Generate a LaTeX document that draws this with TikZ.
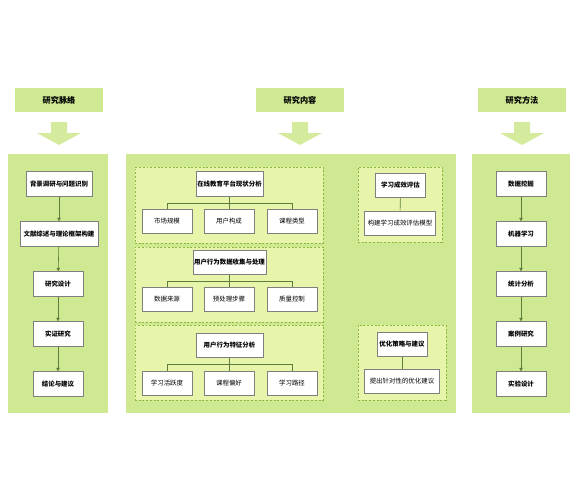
\documentclass[tikz,border=0pt]{standalone}
\usepackage{fontspec}
\setmainfont{Noto Sans CJK SC}
\usetikzlibrary{positioning,arrows.meta}

\definecolor{panelgreen}{HTML}{CFE992}
\definecolor{groupfill}{HTML}{E6F5AA}
\definecolor{groupline}{HTML}{8DB83E}
\definecolor{linkgreen}{HTML}{5E7D3C}
\definecolor{boxgray}{HTML}{7F7F7F}

\begin{document}
\begin{tikzpicture}[x=0.03cm,y=-0.03cm,
    panel/.style={fill=panelgreen,draw=none,inner sep=0pt},
    header/.style={fill=panelgreen,minimum width=2.62cm,minimum height=0.72cm,
        font=\fontsize{7}{8}\selectfont\bfseries},
    group/.style={fill=groupfill,draw=groupline,dash pattern=on 1.6pt off 1.6pt,line width=0.7pt,inner sep=0pt},
    stepbox/.style={draw=boxgray,fill=white,line width=0.6pt,minimum height=0.74cm,
        minimum width=1.5cm,inner sep=1pt,font=\fontsize{5.5}{6.5}\selectfont\bfseries},
    leafbox/.style={draw=boxgray,fill=white,line width=0.6pt,minimum height=0.72cm,
        minimum width=1.5cm,inner sep=1pt,font=\fontsize{5.5}{6.5}\selectfont},
    flow/.style={draw=linkgreen,line width=0.5pt,-{Triangle[length=3pt,width=3pt]}},
    tree/.style={draw=linkgreen,line width=0.5pt}
]

    % Rahmen
    \useasboundingbox (0,0) rectangle (579,500);

    % Kopfzeilen
    \node[header] (hctx) at (59,100) {研究脉络};
    \node[header] (hcon) at (300,100) {研究内容};
    \node[header] (hmet) at (522,100) {研究方法};

    % Grosse Pfeile
    \foreach \cx in {59,300,522}
        \fill[panelgreen!90!white] (\cx-8,122) -- (\cx+8,122) -- (\cx+8,133) -- (\cx+22,133)
            -- (\cx,145) -- (\cx-22,133) -- (\cx-8,133) -- cycle;

    % Hintergrundflaechen
    \node[panel,minimum width=3cm,minimum height=7.77cm] (pctx) at (58,283.5) {};
    \node[panel,minimum width=9.9cm,minimum height=7.77cm] (pcon) at (291,283.5) {};
    \node[panel,minimum width=2.94cm,minimum height=7.77cm] (pmet) at (521,283.5) {};

    % Linke Spalte
    \node[stepbox,minimum width=1.98cm] (c1) at (59,184) {背景调研与问题识别};
    \node[stepbox,minimum width=2.34cm] (c2) at (59,234) {文献综述与理论框架构建};
    \node[stepbox] (c3) at (58,284) {研究设计};
    \node[stepbox] (c4) at (58,334) {实证研究};
    \node[stepbox] (c5) at (58,384) {结论与建议};
    \foreach \a/\b in {c1/c2,c2/c3,c3/c4,c4/c5}
        \draw[flow] (\a) -- (\b);

    % Rechte Spalte
    \node[stepbox] (m1) at (521,184) {数据挖掘};
    \node[stepbox] (m2) at (521,234) {机器学习};
    \node[stepbox] (m3) at (521,284) {统计分析};
    \node[stepbox] (m4) at (521,334) {案例研究};
    \node[stepbox] (m5) at (521,384) {实验设计};
    \foreach \a/\b in {m1/m2,m2/m3,m3/m4,m4/m5}
        \draw[flow] (\a) -- (\b);

    % Gruppen in der Mitte
    \node[group,minimum width=5.64cm,minimum height=2.28cm] (g1) at (229,205) {};
    \node[group,minimum width=5.64cm,minimum height=2.25cm] (g2) at (229,284.5) {};
    \node[group,minimum width=5.64cm,minimum height=2.25cm] (g3) at (229,362.5) {};
    \node[group,minimum width=2.52cm,minimum height=2.25cm] (g4) at (400,204.5) {};
    \node[group,minimum width=2.64cm,minimum height=2.25cm] (g5) at (402,362.5) {};

    % Gruppe 1
    \node[stepbox,minimum width=2.01cm] (a0) at (229.5,184) {在线教育平台现状分析};
    \node[leafbox] (a1) at (167,221) {市场规模};
    \node[leafbox] (a2) at (229,221) {用户构成};
    \node[leafbox] (a3) at (292,221) {课程类型};

    % Gruppe 2
    \node[stepbox,minimum width=2.13cm] (b0) at (229.5,262.5) {用户行为数据收集与处理};
    \node[leafbox] (b1) at (167,299.5) {数据来源};
    \node[leafbox] (b2) at (229,299.5) {预处理步骤};
    \node[leafbox] (b3) at (292,299.5) {质量控制};

    % Gruppe 3
    \node[stepbox,minimum width=2.01cm] (d0) at (229.5,345.5) {用户行为特征分析};
    \node[leafbox] (d1) at (167,383.5) {学习活跃度};
    \node[leafbox] (d2) at (229,383.5) {课程偏好};
    \node[leafbox] (d3) at (292,383.5) {学习路径};

    % Baumverbindungen
    \foreach \p in {a,b,d}
        \foreach \k in {1,2,3}
            \draw[tree] (\p0.south) -- ++(0,6.5) -| (\p\k.north);

    % Rechte Gruppen
    \node[stepbox] (e0) at (400.5,185.5) {学习成效评估};
    \node[leafbox,minimum width=2.13cm] (e1) at (400,223) {构建学习成效评估模型};
    \draw[tree] (e0) -- (e1);

    \node[stepbox] (f0) at (402,344.5) {优化策略与建议};
    \node[leafbox,minimum width=2.25cm] (f1) at (402,381) {提出针对性的优化建议};
    \draw[tree] (f0) -- (f1);

\end{tikzpicture}
\end{document}
